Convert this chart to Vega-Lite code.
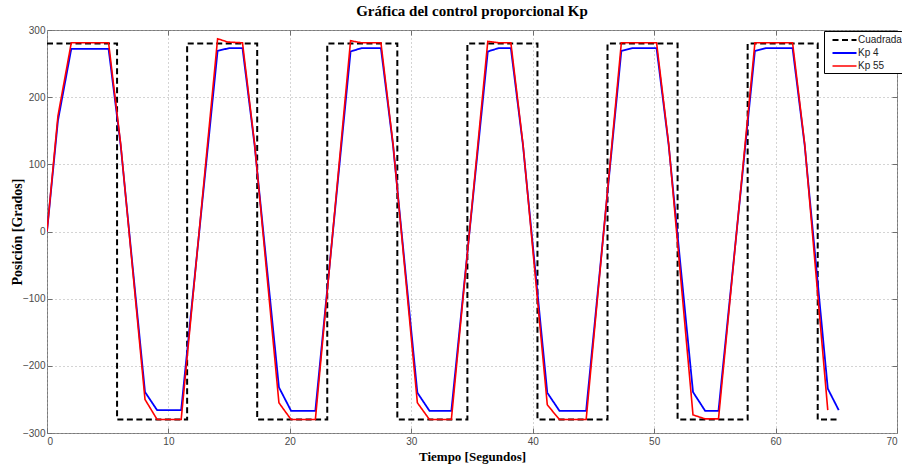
{
  "$schema": "https://vega.github.io/schema/vega-lite/v6.json",
  "width": 850,
  "height": 403,
  "autosize": {"type": "none"},
  "padding": {"left": 47, "top": 30, "right": 5, "bottom": 32},
  "background": "white",
  "title": {"text": "Gráfica del control proporcional Kp", "font": "Liberation Serif", "fontSize": 15, "fontWeight": "bold", "color": "black", "anchor": "middle", "offset": 6},
  "data": {"values": [
    {"serie": "Cuadrada Ideal", "n": 0, "t": 0, "pos": 280},
    {"serie": "Cuadrada Ideal", "n": 1, "t": 5.77, "pos": 280},
    {"serie": "Cuadrada Ideal", "n": 2, "t": 5.77, "pos": -280},
    {"serie": "Cuadrada Ideal", "n": 3, "t": 11.54, "pos": -280},
    {"serie": "Cuadrada Ideal", "n": 4, "t": 11.54, "pos": 280},
    {"serie": "Cuadrada Ideal", "n": 5, "t": 17.31, "pos": 280},
    {"serie": "Cuadrada Ideal", "n": 6, "t": 17.31, "pos": -280},
    {"serie": "Cuadrada Ideal", "n": 7, "t": 23.08, "pos": -280},
    {"serie": "Cuadrada Ideal", "n": 8, "t": 23.08, "pos": 280},
    {"serie": "Cuadrada Ideal", "n": 9, "t": 28.85, "pos": 280},
    {"serie": "Cuadrada Ideal", "n": 10, "t": 28.85, "pos": -280},
    {"serie": "Cuadrada Ideal", "n": 11, "t": 34.62, "pos": -280},
    {"serie": "Cuadrada Ideal", "n": 12, "t": 34.62, "pos": 280},
    {"serie": "Cuadrada Ideal", "n": 13, "t": 40.39, "pos": 280},
    {"serie": "Cuadrada Ideal", "n": 14, "t": 40.39, "pos": -280},
    {"serie": "Cuadrada Ideal", "n": 15, "t": 46.16, "pos": -280},
    {"serie": "Cuadrada Ideal", "n": 16, "t": 46.16, "pos": 280},
    {"serie": "Cuadrada Ideal", "n": 17, "t": 51.93, "pos": 280},
    {"serie": "Cuadrada Ideal", "n": 18, "t": 51.93, "pos": -280},
    {"serie": "Cuadrada Ideal", "n": 19, "t": 57.7, "pos": -280},
    {"serie": "Cuadrada Ideal", "n": 20, "t": 57.7, "pos": 280},
    {"serie": "Cuadrada Ideal", "n": 21, "t": 63.47, "pos": 280},
    {"serie": "Cuadrada Ideal", "n": 22, "t": 63.47, "pos": -280},
    {"serie": "Cuadrada Ideal", "n": 23, "t": 65.2, "pos": -280},

    {"serie": "Kp 4", "n": 0, "t": 0, "pos": 0},
    {"serie": "Kp 4", "n": 1, "t": 0.9, "pos": 165},
    {"serie": "Kp 4", "n": 2, "t": 2.0, "pos": 272},
    {"serie": "Kp 4", "n": 3, "t": 5.07, "pos": 272},
    {"serie": "Kp 4", "n": 4, "t": 6.07, "pos": 128},
    {"serie": "Kp 4", "n": 5, "t": 8.07, "pos": -239},
    {"serie": "Kp 4", "n": 6, "t": 9.07, "pos": -266},
    {"serie": "Kp 4", "n": 7, "t": 11.05, "pos": -266},
    {"serie": "Kp 4", "n": 8, "t": 14.05, "pos": 269},
    {"serie": "Kp 4", "n": 9, "t": 15.0, "pos": 273},
    {"serie": "Kp 4", "n": 10, "t": 16.1, "pos": 273},
    {"serie": "Kp 4", "n": 11, "t": 17.1, "pos": 128},
    {"serie": "Kp 4", "n": 12, "t": 19.1, "pos": -232},
    {"serie": "Kp 4", "n": 13, "t": 20.1, "pos": -267},
    {"serie": "Kp 4", "n": 14, "t": 22.1, "pos": -267},
    {"serie": "Kp 4", "n": 15, "t": 25.0, "pos": 268},
    {"serie": "Kp 4", "n": 16, "t": 25.9, "pos": 273},
    {"serie": "Kp 4", "n": 17, "t": 27.5, "pos": 273},
    {"serie": "Kp 4", "n": 18, "t": 28.5, "pos": 128},
    {"serie": "Kp 4", "n": 19, "t": 30.5, "pos": -240},
    {"serie": "Kp 4", "n": 20, "t": 31.5, "pos": -267},
    {"serie": "Kp 4", "n": 21, "t": 33.3, "pos": -267},
    {"serie": "Kp 4", "n": 22, "t": 36.3, "pos": 268},
    {"serie": "Kp 4", "n": 23, "t": 37.2, "pos": 273},
    {"serie": "Kp 4", "n": 24, "t": 38.2, "pos": 273},
    {"serie": "Kp 4", "n": 25, "t": 39.2, "pos": 128},
    {"serie": "Kp 4", "n": 26, "t": 41.2, "pos": -240},
    {"serie": "Kp 4", "n": 27, "t": 42.2, "pos": -267},
    {"serie": "Kp 4", "n": 28, "t": 44.4, "pos": -267},
    {"serie": "Kp 4", "n": 29, "t": 47.3, "pos": 269},
    {"serie": "Kp 4", "n": 30, "t": 48.2, "pos": 273},
    {"serie": "Kp 4", "n": 31, "t": 50.2, "pos": 273},
    {"serie": "Kp 4", "n": 32, "t": 51.2, "pos": 128},
    {"serie": "Kp 4", "n": 33, "t": 53.2, "pos": -239},
    {"serie": "Kp 4", "n": 34, "t": 54.2, "pos": -267},
    {"serie": "Kp 4", "n": 35, "t": 55.3, "pos": -267},
    {"serie": "Kp 4", "n": 36, "t": 58.3, "pos": 269},
    {"serie": "Kp 4", "n": 37, "t": 59.2, "pos": 273},
    {"serie": "Kp 4", "n": 38, "t": 61.4, "pos": 273},
    {"serie": "Kp 4", "n": 39, "t": 62.4, "pos": 128},
    {"serie": "Kp 4", "n": 40, "t": 64.3, "pos": -234},
    {"serie": "Kp 4", "n": 41, "t": 65.2, "pos": -266},

    {"serie": "Kp 55", "n": 0, "t": 0, "pos": 0},
    {"serie": "Kp 55", "n": 1, "t": 0.9, "pos": 172},
    {"serie": "Kp 55", "n": 2, "t": 2.0, "pos": 281},
    {"serie": "Kp 55", "n": 3, "t": 5.07, "pos": 281},
    {"serie": "Kp 55", "n": 4, "t": 6.07, "pos": 130},
    {"serie": "Kp 55", "n": 5, "t": 8.07, "pos": -250},
    {"serie": "Kp 55", "n": 6, "t": 9.07, "pos": -280},
    {"serie": "Kp 55", "n": 7, "t": 11.05, "pos": -280},
    {"serie": "Kp 55", "n": 8, "t": 14.05, "pos": 287},
    {"serie": "Kp 55", "n": 9, "t": 14.9, "pos": 282},
    {"serie": "Kp 55", "n": 10, "t": 16.1, "pos": 281},
    {"serie": "Kp 55", "n": 11, "t": 17.1, "pos": 130},
    {"serie": "Kp 55", "n": 12, "t": 19.1, "pos": -255},
    {"serie": "Kp 55", "n": 13, "t": 20.1, "pos": -280},
    {"serie": "Kp 55", "n": 14, "t": 22.1, "pos": -280},
    {"serie": "Kp 55", "n": 15, "t": 25.0, "pos": 284},
    {"serie": "Kp 55", "n": 16, "t": 25.9, "pos": 281},
    {"serie": "Kp 55", "n": 17, "t": 27.5, "pos": 281},
    {"serie": "Kp 55", "n": 18, "t": 28.5, "pos": 130},
    {"serie": "Kp 55", "n": 19, "t": 30.5, "pos": -255},
    {"serie": "Kp 55", "n": 20, "t": 31.5, "pos": -280},
    {"serie": "Kp 55", "n": 21, "t": 33.3, "pos": -280},
    {"serie": "Kp 55", "n": 22, "t": 36.3, "pos": 283},
    {"serie": "Kp 55", "n": 23, "t": 37.2, "pos": 281},
    {"serie": "Kp 55", "n": 24, "t": 38.2, "pos": 281},
    {"serie": "Kp 55", "n": 25, "t": 39.2, "pos": 130},
    {"serie": "Kp 55", "n": 26, "t": 41.2, "pos": -258},
    {"serie": "Kp 55", "n": 27, "t": 42.2, "pos": -280},
    {"serie": "Kp 55", "n": 28, "t": 44.4, "pos": -280},
    {"serie": "Kp 55", "n": 29, "t": 47.3, "pos": 281},
    {"serie": "Kp 55", "n": 30, "t": 50.2, "pos": 281},
    {"serie": "Kp 55", "n": 31, "t": 51.2, "pos": 130},
    {"serie": "Kp 55", "n": 32, "t": 53.2, "pos": -273},
    {"serie": "Kp 55", "n": 33, "t": 54.2, "pos": -279},
    {"serie": "Kp 55", "n": 34, "t": 55.3, "pos": -279},
    {"serie": "Kp 55", "n": 35, "t": 58.3, "pos": 281},
    {"serie": "Kp 55", "n": 36, "t": 61.4, "pos": 281},
    {"serie": "Kp 55", "n": 37, "t": 62.4, "pos": 130},
    {"serie": "Kp 55", "n": 38, "t": 64.3, "pos": -266}
  ]},
  "layer": [
    {
      "mark": {"type": "line", "clip": true},
      "encoding": {
        "x": {"field": "t", "type": "quantitative", "scale": {"domain": [0, 70], "nice": false},
          "axis": {"title": "Tiempo [Segundos]", "titleFontSize": 13, "values": [0, 10, 20, 30, 40, 50, 60, 70], "grid": true, "gridDash": [1, 3], "gridColor": "#a8a8a8", "domain": false, "tickSize": -5, "tickColor": "#6e6e6e", "labelPadding": 8, "titlePadding": 4}},
        "y": {"field": "pos", "type": "quantitative", "scale": {"domain": [-300, 300], "nice": false},
          "axis": {"title": "Posición [Grados]", "titleFontSize": 14, "values": [-300, -200, -100, 0, 100, 200, 300], "grid": true, "gridDash": [1, 3], "gridColor": "#a8a8a8", "domain": false, "tickSize": -5, "tickColor": "#6e6e6e", "labelPadding": 7, "titlePadding": -2}},
        "color": {"field": "serie", "type": "nominal",
          "scale": {"domain": ["Cuadrada Ideal", "Kp 4", "Kp 55"], "range": ["#000000", "#0000ff", "#ff0000"]},
          "legend": {"title": null, "orient": "none", "legendX": 777, "legendY": 1}},
        "strokeDash": {"field": "serie", "type": "nominal",
          "scale": {"domain": ["Cuadrada Ideal", "Kp 4", "Kp 55"], "range": [[6, 3.5], [1, 0], [1, 0]]},
          "legend": {"title": null, "orient": "none", "legendX": 777, "legendY": 1}},
        "strokeWidth": {"field": "serie", "type": "nominal",
          "scale": {"domain": ["Cuadrada Ideal", "Kp 4", "Kp 55"], "range": [2, 1.6, 2]},
          "legend": {"title": null, "orient": "none", "legendX": 777, "legendY": 1}},
        "order": {"field": "n"}
      }
    },
    {
      "mark": {"type": "line", "opacity": 0},
      "encoding": {
        "x": {"field": "t", "type": "quantitative", "scale": {"domain": [0, 70], "nice": false},
          "axis": {"orient": "top", "title": null, "labels": false, "grid": false, "domain": false, "values": [10, 20, 30, 40, 50, 60], "tickSize": -5, "tickColor": "#6e6e6e"}},
        "y": {"field": "pos", "type": "quantitative", "scale": {"domain": [-300, 300], "nice": false},
          "axis": {"orient": "right", "title": null, "labels": false, "grid": false, "domain": false, "values": [-200, -100, 0, 100, 200], "tickSize": -5, "tickColor": "#6e6e6e"}}
      }
    }
  ],
  "resolve": {"axis": {"x": "independent", "y": "independent"}},
  "config": {
    "view": {"stroke": "#7a7a7a", "strokeWidth": 1},
    "axis": {
      "labelFont": "Liberation Sans Narrow, Liberation Sans, sans-serif",
      "labelFontSize": 10,
      "labelColor": "#4a4a4a",
      "titleFont": "Liberation Serif",
      "titleFontSize": 12,
      "titleFontWeight": "bold",
      "titleColor": "#000000"
    },
    "legend": {
      "symbolType": "M-2,0H2",
      "symbolSize": 144,
      "symbolOffset": 11.5,
      "labelOffset": 6.5,
      "padding": 2,
      "rowPadding": 1,
      "labelFont": "Liberation Sans Narrow, Liberation Sans, sans-serif",
      "labelFontSize": 10,
      "labelColor": "#222222",
      "strokeColor": "#000000",
      "fillColor": "#ffffff",
      "cornerRadius": 0
    }
  }
}
